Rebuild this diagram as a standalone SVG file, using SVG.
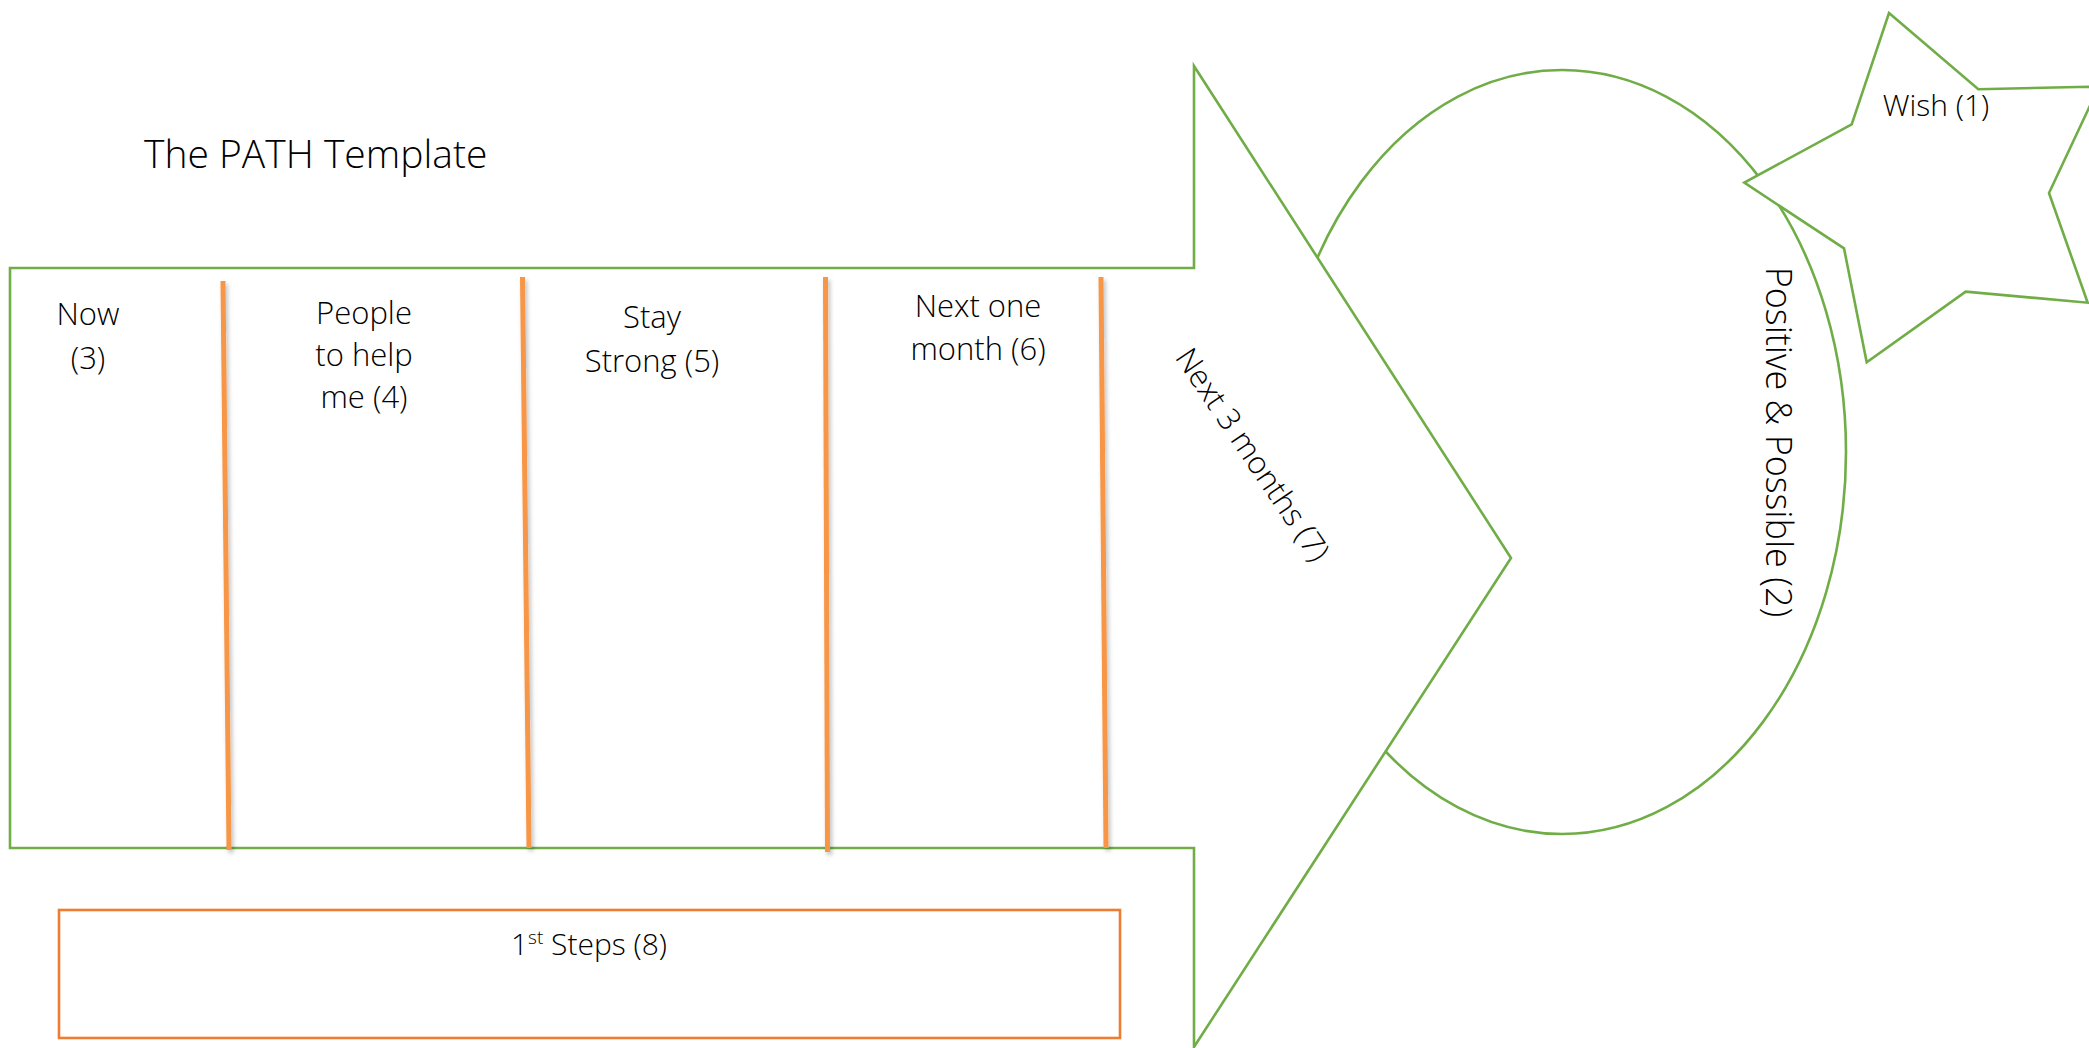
<svg xmlns="http://www.w3.org/2000/svg" width="2089" height="1048" viewBox="0 0 2089 1048">
<style>
.g{fill:#ffffff;stroke:#70AD47;stroke-width:2.6;stroke-linejoin:miter}
.ln{stroke:#F79646;stroke-width:5;fill:none}
.t{font-family:"Open Sans","Liberation Sans",sans-serif;font-weight:300;fill:#000;font-size:31px;text-anchor:middle}
.box{fill:#ffffff;stroke:#ED7D31;stroke-width:2.6}
</style>
<defs>
<filter id="sh" x="-50%" y="-5%" width="200%" height="110%">
<feDropShadow dx="2" dy="3" stdDeviation="2" flood-color="#000" flood-opacity="0.25"/>
</filter>
</defs>
<rect width="2089" height="1048" fill="#ffffff"/>
<text id="title" class="t" x="144" y="168" style="text-anchor:start;font-size:39px">The PATH Template</text>
<g id="ellipse">
<ellipse class="g" cx="1562" cy="452" rx="284" ry="382"/>
</g>
<g id="arrow">
<polygon class="g" points="10,268 1194,268 1194,66 1511,558 1194,1047 1194,848 10,848"/>
<text class="t" transform="translate(1252,455) rotate(56)" x="0" y="10">Next 3 months (7)</text>
</g>
<g id="star">
<polygon class="g" points="1889,13 1978.3,89.3 2099,86.5 2049,193 2087.7,302.7 1965.7,291.7 1866.7,362.3 1844,248.3 1744.3,182.7 1851.7,124.3"/>
<text class="t" x="1936" y="116" style="font-size:30px">Wish (1)</text>
</g>
<g id="positive">
<text class="t" transform="translate(1766,442) rotate(90)" x="0" y="0" style="font-size:36px">Positive &amp; Possible (2)</text>
</g>
<g id="connectors" filter="url(#sh)">
<line class="ln" x1="223" y1="281" x2="229" y2="850"/>
<line class="ln" x1="522.5" y1="277" x2="529" y2="848"/>
<line class="ln" x1="825.5" y1="277" x2="827.5" y2="852"/>
<line class="ln" x1="1101" y1="277" x2="1106" y2="848"/>
</g>
<g id="now">
<text class="t" x="88" y="325">Now</text>
<text class="t" x="88" y="369">(3)</text>
</g>
<g id="people">
<text class="t" x="364" y="324">People</text>
<text class="t" x="364" y="366">to help</text>
<text class="t" x="364" y="408">me (4)</text>
</g>
<g id="stay">
<text class="t" x="652" y="328">Stay</text>
<text class="t" x="652" y="372">Strong (5)</text>
</g>
<g id="nextone">
<text class="t" x="978" y="317">Next one</text>
<text class="t" x="978" y="360">month (6)</text>
</g>
<g id="firststeps">
<rect class="box" x="59" y="910" width="1061" height="128"/>
<text class="t" x="589" y="955" style="font-size:30px">1<tspan dy="-11" style="font-size:19px">st</tspan><tspan dy="11"> Steps (8)</tspan></text>
</g>
</svg>
